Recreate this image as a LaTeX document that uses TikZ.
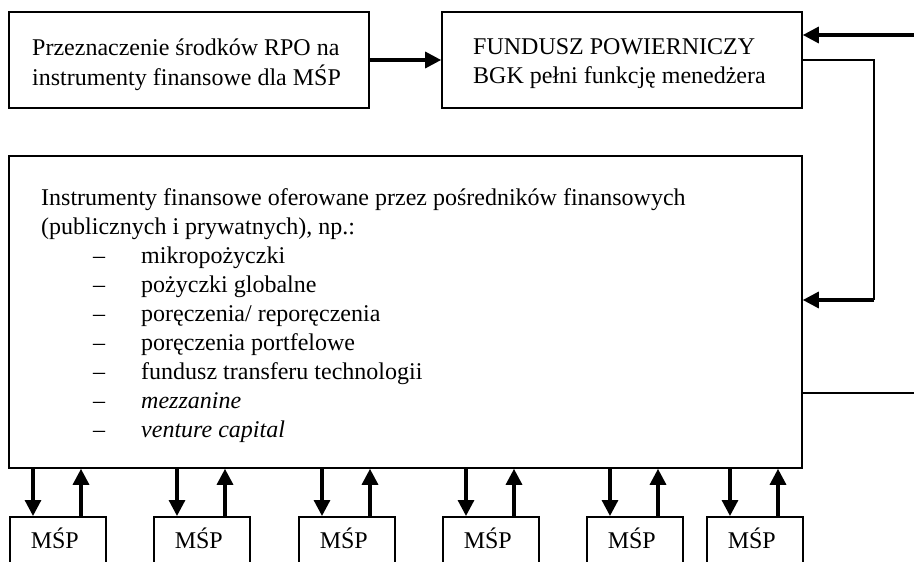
\documentclass[tikz,border=0pt]{standalone}
\usepackage{fontspec}
\setmainfont{Liberation Serif}
\usetikzlibrary{arrows.meta}
\begin{document}
\begin{tikzpicture}[x=1pt,y=-1pt,
  box/.style={draw,line width=1.6pt,rectangle,inner sep=0pt},
  txt/.style={inner sep=0pt,anchor=base west,font=\fontsize{24}{29}\selectfont},
  ctxt/.style={inner sep=0pt,anchor=base,font=\fontsize{24}{29}\selectfont},
  arr/.style={line width=3.2pt,-{Triangle[length=16pt,width=16pt]}},
  thinline/.style={line width=1.6pt}]
\useasboundingbox (0,0) rectangle (914,562);
\clip (0,0) rectangle (914,562);
% top boxes
\node[box,minimum width=360pt,minimum height=96pt] (b1) at (189,60) {};
\node[box,minimum width=360pt,minimum height=96pt] (b2) at (622,60) {};
\node[txt] (t1a) at (32,56) {Przeznaczenie środków RPO na};
\node[txt] (t1b) at (32,85) {instrumenty finansowe dla MŚP};
\node[txt] (t2a) at (473,54) {FUNDUSZ POWIERNICZY};
\node[txt] (t2b) at (473,83) {BGK pełni funkcję menedżera};
% big box
\node[box,minimum width=793pt,minimum height=312pt] (big) at (405.5,312) {};
\node[txt] (l1) at (41,205) {Instrumenty finansowe oferowane przez pośredników finansowych};
\node[txt] (l2) at (41,234) {(publicznych i prywatnych), np.:};
\foreach \k/\t in {0/{mikropożyczki},1/{pożyczki globalne},2/{poręczenia/ reporęczenia},3/{poręczenia portfelowe},4/{fundusz transferu technologii},5/{\textit{mezzanine}},6/{\textit{venture capital}}}{
  \node[txt] (d\k) at (93,263+29*\k) {–};
  \node[txt] (i\k) at (141,263+29*\k) {\t};
}
% right side connectors
\coordinate (inR) at (914,35);
\coordinate (loopTop) at (874,60);
\coordinate (loopBot) at (874,300);
\coordinate (outR) at (914,393);
\draw[arr] (inR) -- (b2.east |- inR);
\draw[thinline] (b2.east) -- (loopTop) -- (loopBot);
\draw[arr] (loopBot) -- (big.east |- loopBot);
\draw[thinline] (big.east |- outR) -- (outR);
\draw[arr] (b1.east) -- (b2.west);
% SME boxes
\foreach \n/\x in {1/9,2/153,3/298,4/442,5/586,6/706}{
  \node[box,minimum width=96pt,minimum height=90pt,anchor=north west] (m\n) at (\x,516) {};
  \node[ctxt] (mt\n) at ([xshift=-3pt]m\n.north |- 0,548) {MŚP};
  \path (m\n.north west) ++(24,0) coordinate (dn\n);
  \path (m\n.north west) ++(72,0) coordinate (up\n);
  \draw[arr] (big.south -| dn\n) -- (dn\n);
  \draw[arr] (up\n) -- (big.south -| up\n);
}
\end{tikzpicture}
\end{document}
